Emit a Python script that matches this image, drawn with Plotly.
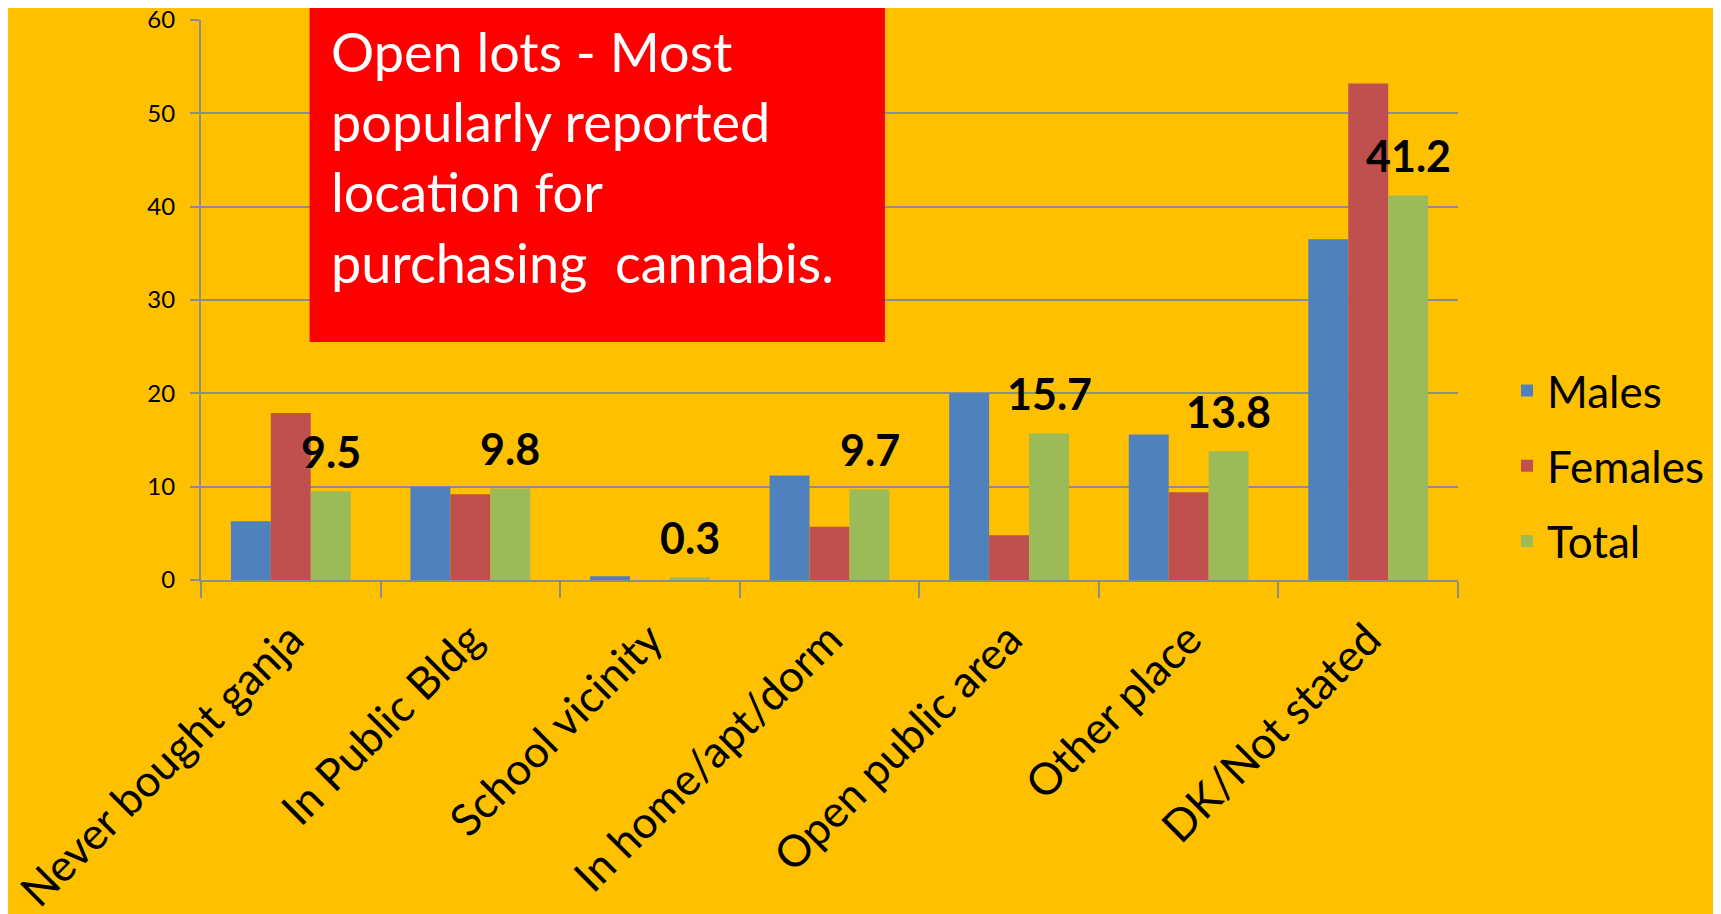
import plotly.graph_objects as go

categories = ["Never bought ganja", "In Public Bldg", "School vicinity", "In home/apt/dorm",
              "Open public area", "Other place", "DK/Not stated"]
males = [6.3, 10.0, 0.4, 11.2, 20.0, 15.6, 36.5]
females = [17.9, 9.2, 0.0, 5.7, 4.8, 9.4, 53.2]
total = [9.5, 9.8, 0.3, 9.7, 15.7, 13.8, 41.2]
y_ticks = [0, 10, 20, 30, 40, 50, 60]
box_text = "Open lots - Most<br>popularly reported<br>location for<br>purchasing  cannabis."

BG = "#FFC000"
GRID = "#8C8C8C"
FONT = "Lato, Calibri, Arial, sans-serif"

fig = go.Figure()
for name, vals, col in [("Males", males, "#4F81BD"), ("Females", females, "#C0504D"), ("Total", total, "#9BBB59")]:
    fig.add_trace(go.Bar(x=categories, y=vals, name=name, marker=dict(color=col, line=dict(width=0)),
                         legendgroup=name))

# data labels above Total bars
for c, v in zip(categories, total):
    fig.add_annotation(x=c, y=v, xref="x", yref="y", text=f"<b>{v}</b>", showarrow=False,
                       xshift=40, yshift=40, yanchor="middle", xanchor="center",
                       font=dict(family=FONT, size=43, color="black"))

# red callout box
fig.add_shape(type="rect", xref="paper", yref="paper", x0=0.0864, x1=0.5441, y0=0.4249, y1=1.0247,
              fillcolor="#FF0000", line=dict(width=0), layer="above")
fig.add_annotation(x=0.102, y=1.005, xref="paper", yref="paper", text=box_text, showarrow=False,
                   xanchor="left", yanchor="top", align="left",
                   font=dict(family=FONT, size=54, color="white"))

fig.update_layout(
    width=1721, height=914,
    paper_bgcolor=BG, plot_bgcolor=BG,
    margin=dict(l=193, r=271, t=12, b=342, autoexpand=False),
    barmode="group", bargap=0.333, bargroupgap=0,
    font=dict(family=FONT, color="black"),
    legend=dict(x=1.039, y=0.2037, xanchor="left", yanchor="middle", bgcolor="rgba(0,0,0,0)",
                font=dict(family=FONT, size=44, color="black"), tracegroupgap=15),
    showlegend=True,
)
fig.update_yaxes(range=[0, 60], tickvals=y_ticks, showgrid=True, gridcolor=GRID, gridwidth=1.5,
                 showline=True, linecolor=GRID, linewidth=2, ticks="outside", ticklen=9,
                 tickcolor=GRID, tickwidth=2, zeroline=False, ticklabelstandoff=10,
                 automargin=False, ticklabeloverflow="allow",
                 tickfont=dict(family=FONT, size=24, color="black"))
fig.update_xaxes(tickangle=-45, tickson="boundaries", ticks="outside", ticklen=16, tickcolor=GRID,
                 tickwidth=2, showline=True, linecolor=GRID, linewidth=2, showgrid=False,
                 ticklabelstandoff=14, automargin=False, ticklabeloverflow="allow",
                 tickfont=dict(family=FONT, size=44, color="black"))

fig.write_html("out.html")
